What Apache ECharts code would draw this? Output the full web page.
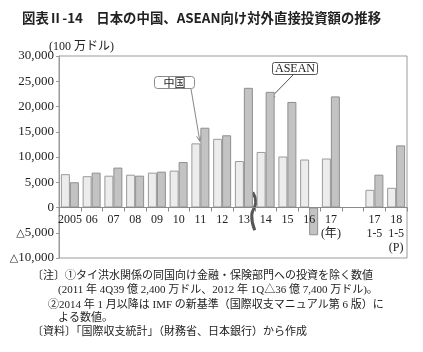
<!DOCTYPE html>
<html>
<head>
<meta charset="utf-8">
<script src="https://cdn.jsdelivr.net/npm/echarts@6/dist/echarts.min.js"></script>
<style>
html,body{margin:0;padding:0;background:#fff;}
#main{width:423px;height:352px;}
</style>
</head>
<body>
<div id="main"></div>
<script>
// 年（空欄を挟んで1-5月の比較）
const categories = ['2005', '06', '07', '08', '09', '10', '11', '12', '13', '14', '15', '16', '17\n(年)', '', '17\n1-5', '18\n1-5\n(P)'];
// 100万ドル
const chinaValues = [6600, 6200, 6300, 6500, 6900, 7300, 12700, 13600, 9200, 11000, 10100, 9500, 9700, null, 3500, 3900];
const aseanValues = [5000, 6900, 7900, 6300, 7100, 9000, 15800, 14300, 23700, 22900, 20900, -5500, 22000, null, 6500, 12300];
const notes = [
  '〔注〕①タイ洪水関係の同国向け金融・保険部門への投資を除く数値',
  '(2011 年 4Q39 億 2,400 万ドル、2012 年 1Q△36 億 7,400 万ドル)。',
  '②2014 年 1 月以降は IMF の新基準（国際収支マニュアル第 6 版）に',
  'よる数値。',
  '〔資料〕「国際収支統計」（財務省、日本銀行）から作成'
];

const serif = '"Liberation Serif", "Noto Sans CJK JP", serif';
const sans = '"Noto Sans CJK JP", sans-serif';
const yMin = -10000, yMax = 30000;
const gridTop = 56, gridBottom = 94, chartH = 352;
const plotH = chartH - gridTop - gridBottom;

const myChart = echarts.init(document.getElementById('main'));

myChart.setOption({
  animation: false,
  backgroundColor: '#fff',
  grid: { left: 59, right: 16, top: gridTop, bottom: gridBottom, show: true, borderColor: '#9a9a9a', borderWidth: 1 },
  xAxis: {
    type: 'category',
    data: categories,
    position: 'bottom',
    z: 5, // ラベルを棒の上に描く
    // 0の位置まで軸を持ち上げる
    offset: -plotH * (0 - yMin) / (yMax - yMin),
    axisLine: { onZero: false, lineStyle: { color: '#8a8a8a', width: 1 } },
    axisTick: { show: true, length: 4, lineStyle: { color: '#8a8a8a' } },
    axisLabel: { color: '#222', fontFamily: serif, fontSize: 12, lineHeight: 14, margin: 5, interval: 0 },
    splitLine: { show: false }
  },
  yAxis: {
    type: 'value',
    min: yMin,
    max: yMax,
    interval: 5000,
    axisLine: { show: true, lineStyle: { color: '#9a9a9a' } },
    axisTick: { show: true, length: 3, lineStyle: { color: '#9a9a9a' } },
    splitLine: { show: false },
    axisLabel: {
      color: '#222', fontFamily: serif, fontSize: 13, margin: 5,
      formatter: function (v) {
        const s = Math.abs(v).toLocaleString('en-US');
        return v < 0 ? '{tri|△}' + s : s;
      },
      rich: { tri: { fontSize: 11, fontFamily: '"DejaVu Sans", sans-serif', color: '#222' } }
    }
  },
  series: [
    {
      name: '中国', type: 'bar', data: chinaValues, barWidth: 9, barGap: '0%',
      itemStyle: { color: '#ececec', borderColor: '#9a9a9a', borderWidth: 1 }
    },
    {
      name: 'ASEAN', type: 'bar', data: aseanValues, barWidth: 9,
      itemStyle: { color: '#c3c3c3', borderColor: '#8f8f8f', borderWidth: 1 }
    }
  ]
});

// 矢印（線＋矢じり）
function arrow(x1, y1, x2, y2, color) {
  const a = Math.atan2(y2 - y1, x2 - x1);
  const h = 6, w = 0.4;
  return {
    type: 'group',
    children: [
      { type: 'line', shape: { x1: x1, y1: y1, x2: x2, y2: y2 }, style: { stroke: color, lineWidth: 1 } },
      {
        type: 'polyline',
        shape: { points: [
          [x2 - h * Math.cos(a - w), y2 - h * Math.sin(a - w)],
          [x2, y2],
          [x2 - h * Math.cos(a + w), y2 - h * Math.sin(a + w)]
        ] },
        style: { stroke: color, lineWidth: 1, fill: null }
      }
    ]
  };
}

const pt = (i, v) => myChart.convertToPixel({ xAxisIndex: 0, yAxisIndex: 0 }, [i, v]);
const chinaTop = pt(6, chinaValues[6]);
const aseanTop = pt(9, aseanValues[9]);
// 13年と14年の間の区切り（波線）
const bx = (pt(8, 0)[0] + pt(9, 0)[0]) / 2;
const by1 = pt(8, 3000)[1], by2 = pt(8, -4500)[1];

const graphics = [
  { type: 'text', left: 22, top: 11, style: { text: '図表Ⅱ-14　日本の中国、ASEAN向け対外直接投資額の推移', font: 'bold 13.4px ' + sans, fill: '#222' } },
  { type: 'text', left: 49, top: 41, style: { text: '(100 万ドル)', font: '12px ' + serif, fill: '#222' } },
  // 中国の吹き出し
  { type: 'rect', shape: { x: 154.5, y: 76.5, width: 40, height: 12, r: 3 }, style: { fill: '#fff', stroke: '#8a8a8a', lineWidth: 1 } },
  { type: 'text', x: 174.5, y: 82.5, style: { text: '中国', font: '11px ' + sans, fill: '#222', align: 'center', verticalAlign: 'middle' } },
  arrow(191, 89, chinaTop[0] - 0.5, chinaTop[1] - 2, '#888'),
  // ASEANの吹き出し
  { type: 'rect', shape: { x: 272.5, y: 62.5, width: 45, height: 12, r: 2 }, style: { fill: '#fff', stroke: '#555', lineWidth: 1 } },
  { type: 'text', x: 295, y: 68.5, style: { text: 'ASEAN', font: '12px ' + serif, fill: '#222', align: 'center', verticalAlign: 'middle' } },
  arrow(293, 75, aseanTop[0] + 4, aseanTop[1] + 7, '#555'),
  {
    type: 'polyline',
    shape: { points: [[bx - 2, by1], [bx + 1, by1 + 10], [bx - 3, (by1 + by2) / 2 + 4], [bx, by2]], smooth: 0.5 },
    style: { stroke: '#555', lineWidth: 3, fill: null }
  }
];

const noteX = [32, 58, 48, 58, 32];
const noteY = [278, 292, 307, 320, 334];
notes.forEach((t, i) => {
  graphics.push({ type: 'text', left: noteX[i], top: noteY[i] - 7, style: { text: t, font: '11px ' + serif, fill: '#222' } });
});

myChart.setOption({ graphic: graphics });
</script>
</body>
</html>
